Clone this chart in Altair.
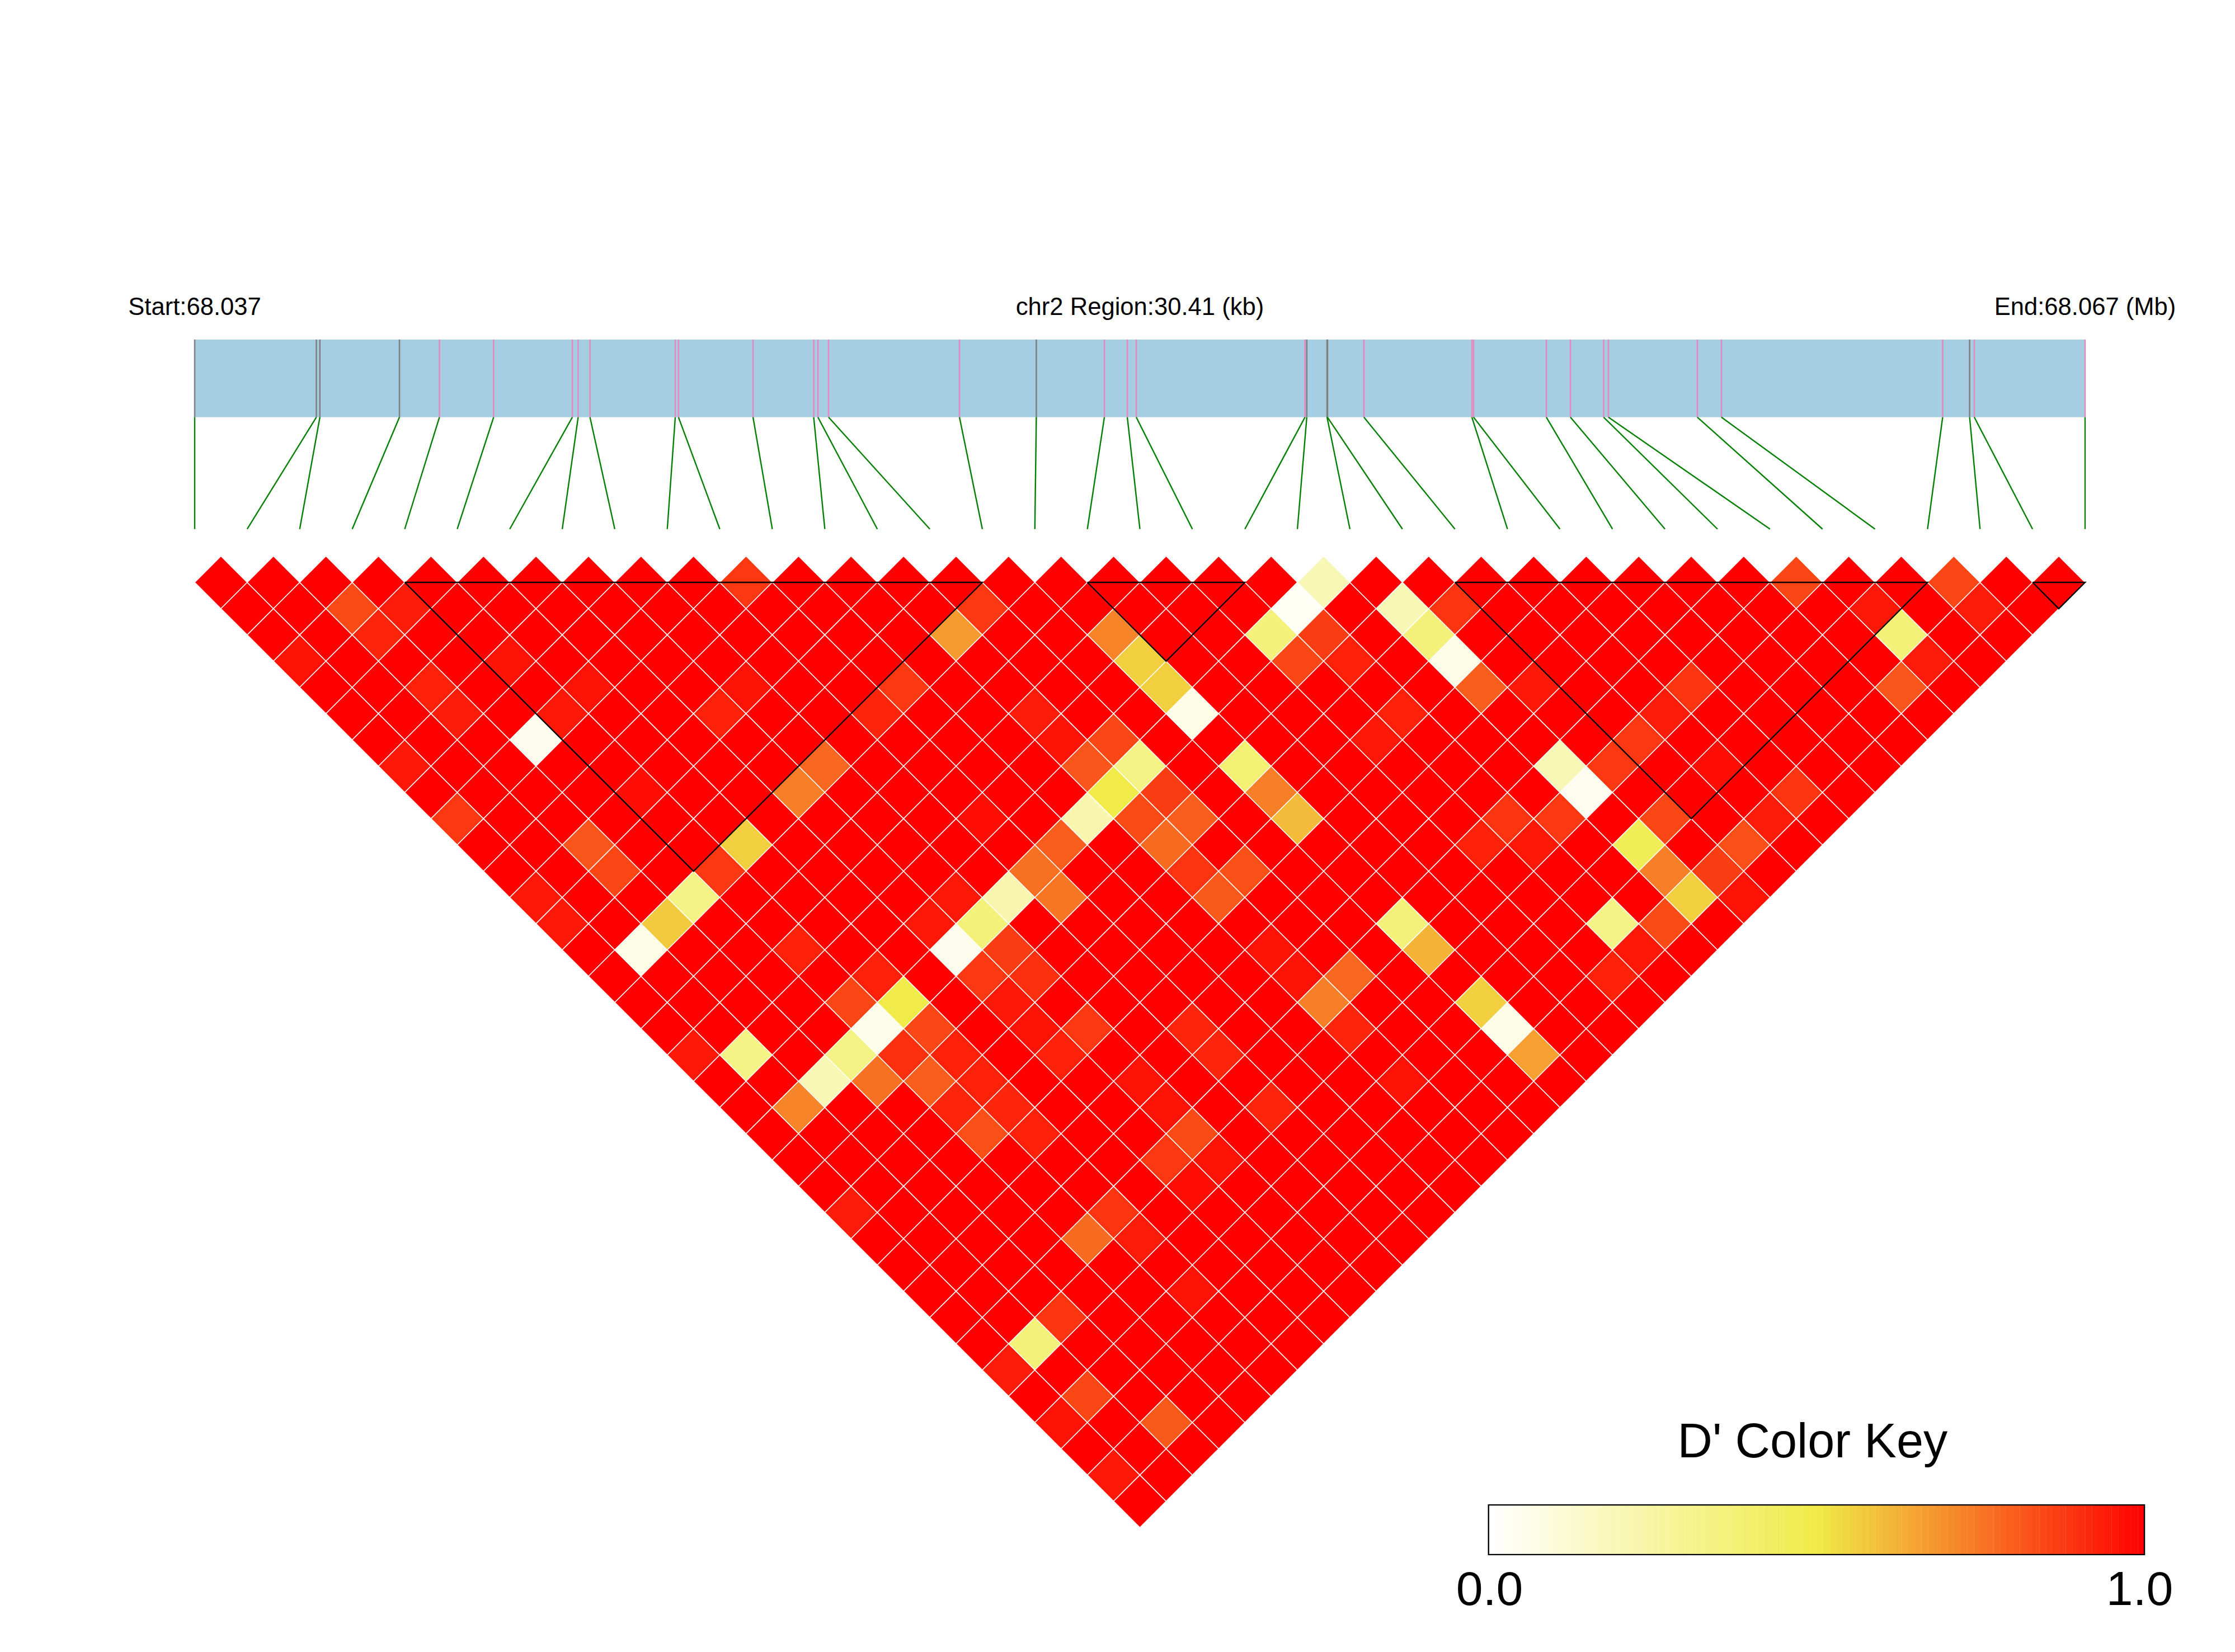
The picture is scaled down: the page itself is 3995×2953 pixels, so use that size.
import altair as alt
import pandas as pd

# SNP positions within the 30.41 kb region
SNP_KB = [0, 1.957, 2.014, 3.294, 3.937, 4.809, 6.075, 6.169, 6.359, 7.731, 7.783, 8.982,
          9.958, 10.026, 10.197, 12.303, 13.539, 14.634, 15.003, 15.147, 17.861, 17.890,
          18.216, 18.223, 18.809, 20.546, 20.573, 21.744, 22.131, 22.666, 22.742, 24.173,
          24.560, 28.119, 28.553, 28.628, 30.41]
SNP_GREY = [0, 1, 2, 3, 16, 21, 22, 23, 34]
REGION_KB = 30.41

# D' values that differ from 1.0: {row below the top: {i+j of the SNP pair: D'}}
DPRIME_LOW = {
    0: {21: .88, 43: .20, 61: .85, 67: .85},
    1: {6: .84, 8: .94, 30: .88, 42: .03, 46: .20, 48: .89, 64: .95, 68: .94},
    2: {7: .92, 29: .67, 35: .72, 41: .36, 43: .87, 47: .36, 65: .37},
    3: {4: .96, 12: .96, 36: .56, 42: .85, 44: .93, 48: .07, 66: .94},
    4: {9: .93, 15: .96, 21: .96, 27: .88, 37: .56, 49: .80, 51: .95, 57: .89, 65: .82},
    5: {10: .94, 14: .95, 20: .93, 26: .92, 32: .94, 38: .07, 46: .93, 56: .94},
    6: {13: .05, 33: .96, 35: .85, 45: .95, 55: .88},
    7: {8: .95, 24: .78, 34: .82, 36: .33, 40: .38, 52: .20, 54: .88, 58: .97},
    8: {17: .97, 23: .73, 35: .50, 37: .87, 41: .73, 53: .04, 61: .89},
    9: {10: .88, 30: .97, 34: .22, 36: .84, 38: .80, 42: .60, 50: .89, 52: .88, 56: .85, 60: .94},
    10: {15: .82, 21: .56, 33: .80, 37: .77, 49: .93, 51: .95, 55: .46, 59: .83},
    11: {16: .85, 20: .88, 32: .76, 38: .89, 40: .83, 56: .73, 58: .87},
    12: {13: .95, 19: .33, 29: .95, 31: .22, 33: .75, 39: .81, 57: .56, 59: .96},
    13: {14: .95, 18: .57, 28: .95, 30: .36, 46: .36, 54: .33, 56: .84},
    14: {17: .07, 23: .93, 29: .05, 31: .87, 41: .96, 47: .62, 55: .95},
    15: {26: .93, 30: .88, 32: .90, 42: .96, 44: .78, 54: .93},
    16: {25: .85, 27: .50, 31: .95, 43: .73, 49: .56},
    17: {26: .06, 28: .85, 32: .96, 34: .88, 38: .92, 44: .92, 50: .07},
    18: {19: .95, 21: .33, 25: .33, 27: .90, 29: .93, 33: .93, 39: .92, 51: .66},
    19: {24: .20, 26: .76, 28: .80, 30: .93, 36: .96, 46: .96},
    20: {23: .72, 29: .92, 31: .92, 37: .96, 41: .92},
    21: {30: .83, 32: .93, 38: .84},
    22: {37: .88, 39: .96},
    23: {38: .97},
    24: {25: .94, 35: .89},
    25: {34: .77, 36: .94},
    27: {38: .96, 41: .97},
    28: {33: .89},
    29: {32: .36},
    30: {31: .94},
    31: {34: .85},
    32: {33: .96, 37: .81},
    34: {35: .95},
}

# LD blocks: first and last map slot of each block
BLOCKS = [(4, 15), (17, 20), (24, 33), (35, 36)]

TITLE_LEFT = "Start:68.037"
TITLE_MID = "chr2 Region:30.41 (kb)"
TITLE_RIGHT = "End:68.067 (Mb)"
KEY_TITLE = "D' Color Key"
KEY_LABELS = ["0.0", "1.0"]
KEY_STEPS = 100

# ---- layout ----
W, H = 3979, 2937
U_PX = 3379 / 36          # px per SNP slot
R_PX = U_PX / 2           # px per row
X0, Y0 = 340, 1033        # chart px of slot 0 / row 0
x_dom = [-X0 / U_PX, (W - X0) / U_PX]
y_dom = [(H - Y0) / R_PX, -Y0 / R_PX]
BAR_TOP, BAR_BOT, LINK_BOT = -9.25, -6.29, -2.03
N = len(SNP_KB)

X = lambda f: alt.X(f, type="quantitative", scale=alt.Scale(domain=x_dom, nice=False, zero=False), axis=None)
Y = lambda f: alt.Y(f, type="quantitative", scale=alt.Scale(domain=y_dom, nice=False, zero=False), axis=None)
colour = alt.Scale(domain=[0, .5, 1], range=["#ffffff", "#f0eb48", "#ff0000"], interpolate="rgb")

# ---- tables ----
cells = []
for i in range(N):
    for j in range(i + 1, N):
        r, a = j - i - 1, i + j
        cells.append({"u": a / 2, "r": r, "d": DPRIME_LOW.get(r, {}).get(a, 1.0)})
cells = pd.DataFrame(cells)

snps = pd.DataFrame({
    "u": [k / REGION_KB * (N - 1) for k in SNP_KB],
    "slot": list(range(N)),
})
snps["col"] = ["#808080" if s in SNP_GREY else "#e28abf" for s in snps["slot"]]
snps["top"], snps["bot"], snps["low"] = BAR_TOP, BAR_BOT, LINK_BOT

tri = []
for b, (s, e) in enumerate(BLOCKS):
    for o, (u, r) in enumerate([(s, 0), (e, 0), ((s + e) / 2, e - s), (s, 0)]):
        tri.append({"b": b, "o": o, "u": u, "r": r})
tri = pd.DataFrame(tri)

# ---- layers ----
bar = alt.Chart(pd.DataFrame({"u": [0], "u2": [N - 1], "t": [BAR_TOP], "b": [BAR_BOT]})).mark_rect(
    color="#a6cee3").encode(X("u"), x2="u2", y=Y("t"), y2="b")
ticks = alt.Chart(snps).mark_rule(strokeWidth=2.6).encode(
    X("u"), y=Y("top"), y2="bot", color=alt.Color("col:N", scale=None))
links = alt.Chart(snps).mark_rule(color="#008000", strokeWidth=2.4).encode(
    X("u"), x2="slot", y=Y("bot"), y2="low")

heat = alt.Chart(cells).mark_point(
    filled=True, shape="M0,-1L1,0L0,1L-1,0Z", size=U_PX ** 2, stroke="white",
    strokeWidth=1.5, opacity=1, fillOpacity=1, strokeOpacity=1
).encode(X("u"), Y("r"), fill=alt.Fill("d:Q", scale=colour, legend=None))

blocks = alt.Chart(tri).mark_line(color="black", strokeWidth=2.4).encode(
    X("u"), Y("r"), detail="b:N", order="o:Q")


def text_layer(labels, us, y, size):
    df = pd.DataFrame({"t": labels, "u": us, "r": [y] * len(labels)})
    return alt.Chart(df).mark_text(
        font="Liberation Sans", fontSize=size, color="black", align="center", baseline="alphabetic"
    ).encode(X("u"), Y("r"), text="t:N")


titles = text_layer([TITLE_LEFT, TITLE_MID, TITLE_RIGHT], [0, 18, 36], -10.19, 43.6)

KX0, KX1, KY0, KY1 = 24.64, 37.13, 35.14, 37.03
ramp = pd.DataFrame({"k": [s / KEY_STEPS for s in range(KEY_STEPS)]})
ramp["u"] = KX0 + ramp["k"] * (KX1 - KX0)
ramp["u2"] = ramp["u"] + (KX1 - KX0) / KEY_STEPS + .003
ramp["c"] = ramp["k"] + .5 / KEY_STEPS
ramp["t"], ramp["b"] = KY0, KY1
key = alt.Chart(ramp).mark_rect().encode(
    X("u"), x2="u2", y=Y("t"), y2="b", color=alt.Color("c:Q", scale=colour, legend=None))
key_box = alt.Chart(pd.DataFrame({"u": [KX0], "u2": [KX1], "t": [KY0], "b": [KY1]})).mark_rect(
    filled=False, stroke="black", strokeWidth=2.4).encode(X("u"), x2="u2", y=Y("t"), y2="b")
key_title = text_layer([KEY_TITLE], [30.81], 33.33, 86.5)
key_labels = text_layer(KEY_LABELS, [KX0 + .02, KX1 - .09], 38.95, 86)

chart = alt.layer(
    bar, ticks, links, heat, blocks, titles, key, key_box, key_title, key_labels
).resolve_scale(color="independent").properties(
    width=W, height=H, padding=0, background="white",
    autosize=alt.AutoSizeParams(type="none")
).configure_view(stroke=None)

chart.save("out.html", embed_options={"renderer": "svg", "actions": False})
